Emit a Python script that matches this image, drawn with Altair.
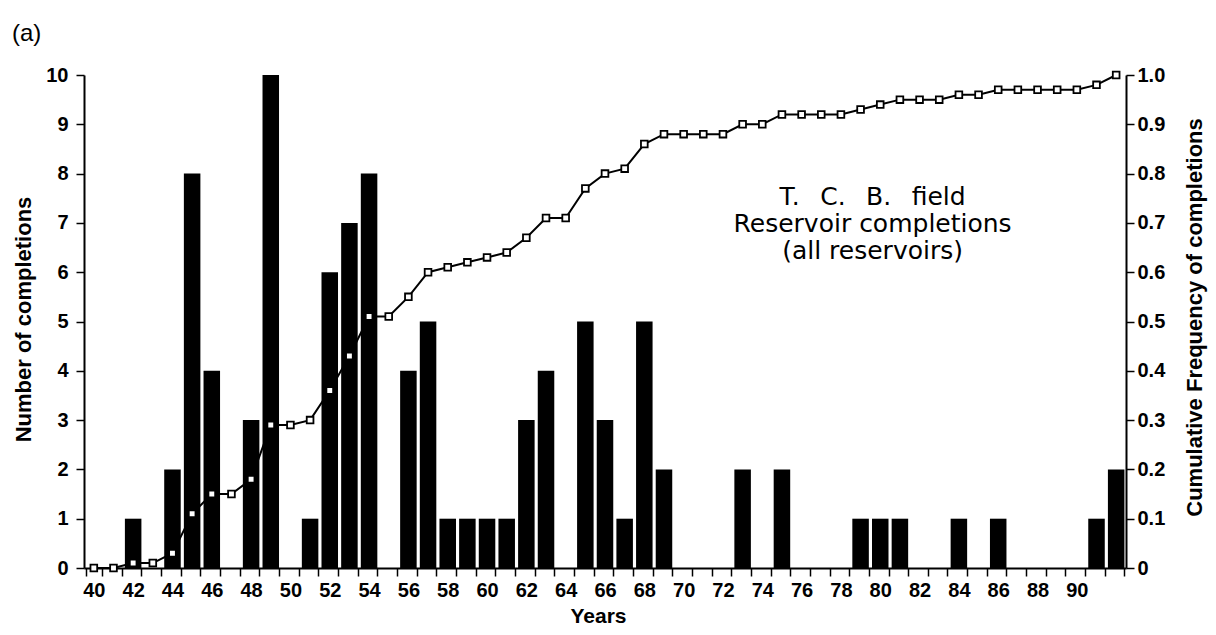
import altair as alt
import pandas as pd

years = [40, 41, 42, 43, 44, 45, 46, 47, 48, 49,
         50, 51, 52, 53, 54, 55, 56, 57, 58, 59,
         60, 61, 62, 63, 64, 65, 66, 67, 68, 69,
         70, 71, 72, 73, 74, 75, 76, 77, 78, 79,
         80, 81, 82, 83, 84, 85, 86, 87, 88, 89,
         90, 91, 92]
completions = [0, 0, 1, 0, 2, 8, 4, 0, 3, 10,
               0, 1, 6, 7, 8, 0, 4, 5, 1, 1,
               1, 1, 3, 4, 0, 5, 3, 1, 5, 2,
               0, 0, 0, 2, 0, 2, 0, 0, 0, 1,
               1, 1, 0, 0, 1, 0, 1, 0, 0, 0,
               0, 1, 2]
cumulative = [0.0, 0.0, 0.01, 0.01, 0.03, 0.11, 0.15, 0.15, 0.18, 0.29,
              0.29, 0.30, 0.36, 0.43, 0.51, 0.51, 0.55, 0.60, 0.61, 0.62,
              0.63, 0.64, 0.67, 0.71, 0.71, 0.77, 0.80, 0.81, 0.86, 0.88,
              0.88, 0.88, 0.88, 0.90, 0.90, 0.92, 0.92, 0.92, 0.92, 0.93,
              0.94, 0.95, 0.95, 0.95, 0.96, 0.96, 0.97, 0.97, 0.97, 0.97,
              0.97, 0.98, 1.0]
x_tick_labels = ["40", "42", "44", "46", "48", "50", "52", "54", "56", "58",
                 "60", "62", "64", "66", "68", "70", "72", "74", "76", "78",
                 "80", "82", "84", "86", "88", "90"]
left_ticks = [0, 1, 2, 3, 4, 5, 6, 7, 8, 9, 10]
right_ticks = [0, 0.1, 0.2, 0.3, 0.4, 0.5, 0.6, 0.7, 0.8, 0.9, 1.0]
annotation_lines = ["T.\u2002 C.\u2002 B.\u2002 field", "Reservoir completions", "(all reservoirs)"]
annotation_year = 79
annotation_count = 7.36

df = pd.DataFrame({"year": years, "count": completions, "cum": cumulative})
ann = pd.DataFrame({"year": [annotation_year], "count": [annotation_count], "text": [annotation_lines]})

FONT = "Liberation Sans"
label_list = ",".join("'%s'" % s for s in x_tick_labels)
x_label_expr = "indexof([%s], datum.label) >= 0 ? datum.label : ''" % label_list

x_enc = alt.X(
    "year:O",
    scale=alt.Scale(paddingInner=0.16, paddingOuter=0.08),
    axis=alt.Axis(
        title="Years", tickBand="extent", labelAngle=0, labelExpr=x_label_expr,
        labelOverlap=False, tickSize=8, labelPadding=4, labelFontSize=20,
        titleFontSize=21, titleFontWeight="bold", titleY=54, titleBaseline="alphabetic",
        titleX=514,
    ),
)

bars = alt.Chart(df).mark_bar(color="black").encode(
    x=x_enc,
    y=alt.Y(
        "count:Q",
        scale=alt.Scale(domain=[0, 10], nice=False),
        axis=alt.Axis(
            title="Number of completions", values=left_ticks, format="d",
            tickSize=8, labelPadding=8, labelFontSize=20,
            titleFontSize=22, titleFontWeight="bold", titleAngle=-90,
            titleX=-61, titleY=244, titleAlign="center", titleBaseline="middle",
        ),
    ),
)

text = alt.Chart(ann).mark_text(
    font="DejaVu Sans", fontSize=25, lineHeight=27, align="center",
    baseline="alphabetic", color="black", dx=12,
).encode(
    x="year:O",
    y=alt.Y("count:Q"),
    text="text",
)

right_axis = alt.Axis(
    title="Cumulative Frequency of completions", orient="right", values=right_ticks,
    labelExpr="datum.value == 0 ? '0' : format(datum.value, '.1f')",
    tickSize=8, labelPadding=3, labelFontSize=20,
    titleFontSize=22, titleFontWeight="bold", titleAngle=-90,
    titleX=68, titleY=242, titleAlign="center", titleBaseline="middle",
)
y_cum = alt.Y("cum:Q", scale=alt.Scale(domain=[0, 1], nice=False), axis=right_axis)

line = alt.Chart(df).mark_line(color="black", strokeWidth=2).encode(x="year:O", y=y_cum)
points = alt.Chart(df).mark_point(
    shape="square", filled=True, fill="white", stroke="black",
    strokeWidth=1.8, size=45, opacity=1,
).encode(x="year:O", y=y_cum)

left_layer = alt.layer(bars, text)
right_layer = alt.layer(line, points)

chart = alt.layer(left_layer, right_layer).resolve_scale(y="independent").properties(
    width=1042,
    height=493,
    autosize=alt.AutoSizeParams(type="none"),
    padding={"left": 76, "top": 67, "right": 82, "bottom": 64},
    title=alt.TitleParams(
        "(a)", anchor="start", fontSize=24, fontWeight="normal", font=FONT,
        dx=0, offset=0, baseline="alphabetic", color="black",
    ),
).configure(
    font=FONT,
).configure_axis(
    labelFont=FONT, titleFont=FONT, labelFontWeight="bold", labelColor="black",
    titleColor="black", domainColor="black", tickColor="black", domainWidth=2,
    tickWidth=1.5, grid=False,
).configure_view(strokeWidth=0)

chart.save("out.html", embed_options={"renderer": "svg", "actions": False})
